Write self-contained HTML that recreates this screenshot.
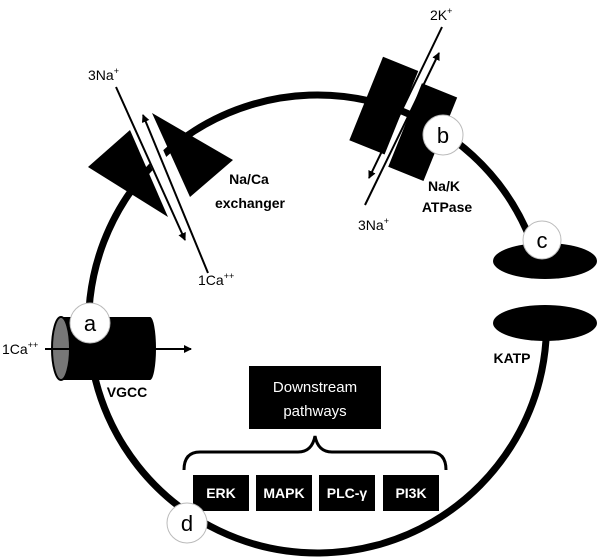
<!DOCTYPE html>
<html><head><meta charset="utf-8"><style>
html,body{margin:0;padding:0;background:#fff;}
svg{display:block;font-family:"Liberation Sans",sans-serif;}
</style></head><body>
<svg width="600" height="560" viewBox="0 0 600 560" xmlns="http://www.w3.org/2000/svg">
<defs>
<marker id="ah" markerWidth="8" markerHeight="8" refX="7" refY="4" orient="auto" markerUnits="userSpaceOnUse">
<path d="M0,0 L8,4 L0,8 z" fill="#000"/>
</marker>
</defs>
<path d="M531,241 A229,229 0 1 0 546,340" fill="none" stroke="#000" stroke-width="7"/>

<!-- Na/Ca exchanger -->
<polygon points="88,167 130,130 168,217" fill="#000"/>
<polygon points="152,113 233,160 190,197" fill="#000"/>
<line x1="120" y1="75" x2="200" y2="255" stroke="#fff" stroke-width="18"/>
<line x1="116" y1="87" x2="185" y2="240" stroke="#000" stroke-width="2" marker-end="url(#ah)"/>
<line x1="208" y1="273" x2="143" y2="115" stroke="#000" stroke-width="2" marker-end="url(#ah)"/>
<text x="88" y="80" font-size="14">3Na<tspan font-size="9" dy="-6">+</tspan></text>
<text x="198" y="285" font-size="14">1Ca<tspan font-size="9" dy="-6">++</tspan></text>
<text x="249" y="184" font-size="14" font-weight="bold" text-anchor="middle">Na/Ca</text>
<text x="250" y="208" font-size="14" font-weight="bold" text-anchor="middle">exchanger</text>

<!-- Na/K ATPase -->
<g transform="translate(404,117) rotate(22)">
<rect x="-42" y="-48" width="38" height="90" fill="#000"/>
<rect x="4" y="-38" width="38" height="90" fill="#000"/>
</g>
<line x1="442" y1="27" x2="369" y2="178" stroke="#000" stroke-width="2" marker-end="url(#ah)"/>
<line x1="365" y1="205" x2="439" y2="53" stroke="#000" stroke-width="2" marker-end="url(#ah)"/>
<text x="430" y="20" font-size="14">2K<tspan font-size="9" dy="-6">+</tspan></text>
<text x="358" y="230" font-size="14">3Na<tspan font-size="9" dy="-6">+</tspan></text>
<text x="444" y="191" font-size="14" font-weight="bold" text-anchor="middle">Na/K</text>
<text x="447" y="212" font-size="14" font-weight="bold" text-anchor="middle">ATPase</text>
<circle cx="443" cy="135" r="20" fill="#fff" stroke="#bbb" stroke-width="1"/>
<text x="443" y="143" font-size="22" text-anchor="middle">b</text>

<!-- KATP -->
<ellipse cx="545" cy="261" rx="52" ry="18" fill="#000"/>
<ellipse cx="545" cy="323" rx="52" ry="18" fill="#000"/>
<circle cx="542" cy="240" r="19" fill="#fff" stroke="#bbb" stroke-width="1"/>
<text x="542" y="248" font-size="22" text-anchor="middle">c</text>
<text x="512" y="363" font-size="14" font-weight="bold" text-anchor="middle">KATP</text>

<!-- VGCC -->
<rect x="61" y="317" width="89" height="63" fill="#000"/>
<ellipse cx="150" cy="348.5" rx="6" ry="31.5" fill="#000"/>
<ellipse cx="61" cy="348.5" rx="9" ry="31.5" fill="#777" stroke="#000" stroke-width="2"/>
<line x1="45" y1="349" x2="70" y2="349" stroke="#000" stroke-width="2"/>
<line x1="154" y1="349" x2="191" y2="349" stroke="#000" stroke-width="2" marker-end="url(#ah)"/>
<text x="2" y="354" font-size="14">1Ca<tspan font-size="9" dy="-6">++</tspan></text>
<text x="127" y="397" font-size="14" font-weight="bold" text-anchor="middle">VGCC</text>
<circle cx="90" cy="323" r="20" fill="#fff" stroke="#bbb" stroke-width="1"/>
<text x="90" y="331" font-size="22" text-anchor="middle">a</text>

<!-- Downstream -->
<rect x="249" y="366" width="132" height="63" fill="#000"/>
<text x="315" y="392" font-size="15" fill="#fff" text-anchor="middle">Downstream</text>
<text x="315" y="416" font-size="15" fill="#fff" text-anchor="middle">pathways</text>
<path d="M184,470 Q184,452 200,452 L298,452 Q312,452 315,436 Q318,452 332,452 L430,452 Q446,452 446,470" fill="none" stroke="#000" stroke-width="3"/>
<rect x="193" y="475" width="56" height="36" fill="#000"/>
<rect x="256" y="475" width="56" height="36" fill="#000"/>
<rect x="319" y="475" width="56" height="36" fill="#000"/>
<rect x="383" y="475" width="56" height="36" fill="#000"/>
<g font-size="14" font-weight="bold" fill="#fff" text-anchor="middle">
<text x="221" y="498">ERK</text>
<text x="284" y="498">MAPK</text>
<text x="347" y="498">PLC-γ</text>
<text x="411" y="498">PI3K</text>
</g>
<circle cx="187" cy="523" r="20" fill="#fff" stroke="#bbb" stroke-width="1"/>
<text x="187" y="531" font-size="22" text-anchor="middle">d</text>
</svg>
</body></html>
